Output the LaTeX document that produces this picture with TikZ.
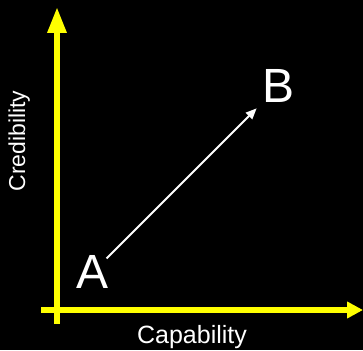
\documentclass[tikz,border=0pt]{standalone}
\usepackage{fontspec}
\setmainfont{Liberation Sans}
\usetikzlibrary{arrows.meta}
\definecolor{axiscol}{RGB}{255, 255, 0}
\tikzset{
  axis/.style={line width=6pt, draw=axiscol},
  axislabel/.style={text=white, inner sep=0pt, anchor=base},
  point/.style={text=white, inner sep=0pt, anchor=base, font=\fontsize{48}{50}\selectfont},
  move/.style={draw=white, line width=2pt, -{Triangle[length=11pt, width=9pt]}},
}

\begin{document}
\begin{tikzpicture}[x=1pt, y=1pt]
  \fill[black] (0,0) rectangle (363,350);
  \useasboundingbox (0,0) rectangle (363,350);

  % axes
  \coordinate (ybot) at (57,26);
  \coordinate (ytop) at (57,343);
  \coordinate (xleft) at (41,40);
  \coordinate (xright) at (363,40);
  \draw[axis, -{Triangle[length=26pt, width=18pt]}] (ybot) -- (ytop);
  \draw[axis, -{Triangle[length=16pt, width=16pt]}] (xleft) -- (xright);

  \node[axislabel, rotate=90, font=\fontsize{23}{25}\selectfont] (cred) at (25,209) {Credibility};
  \node[axislabel, font=\fontsize{25}{27}\selectfont] (cap) at (192,7) {Capability};

  % points
  \node[point] (A) at (92.5,61) {A};
  \node[point] (B) at (278.5,247) {B};
  \draw[move, shorten <=-3pt, shorten >=8pt] (A) -- (B);
\end{tikzpicture}
\end{document}
